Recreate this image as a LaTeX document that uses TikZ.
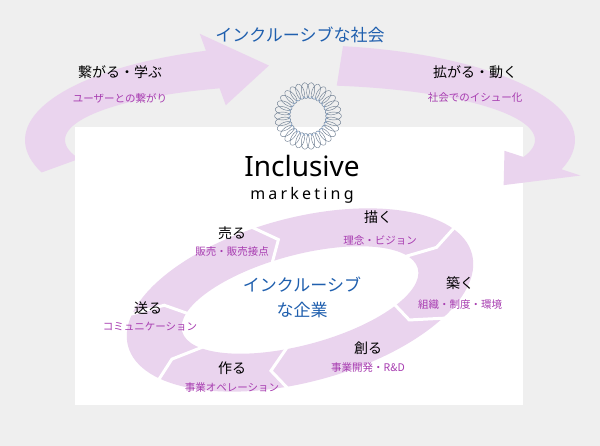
\documentclass[tikz,border=0pt]{standalone}
\usepackage{fontspec}
\setsansfont{Noto Sans}
\newfontfamily\jp{Noto Sans CJK JP}
\definecolor{bggray}{HTML}{EFEFEF}
\definecolor{ringpink}{HTML}{EAD4EE}
\definecolor{titleblue}{HTML}{1F5FAE}
\definecolor{submag}{HTML}{A73BB0}
\definecolor{logoline}{HTML}{6F7F92}
\tikzset{
  ring/.style={fill=ringpink},
  mainlbl/.style={font=\jp\fontsize{14}{16}\selectfont, text=black, inner sep=1pt},
  sublbl/.style={font=\jp\fontsize{10.5}{12}\selectfont, text=submag, inner sep=1pt},
  bluelbl/.style={font=\jp\fontsize{17}{20}\selectfont, text=titleblue, inner sep=1pt}
}
\begin{document}
\begin{tikzpicture}[x=1pt,y=1pt]
  \useasboundingbox (0,0) rectangle (600,446);
  \fill[bggray] (0,0) rectangle (600,446);

  % outer arrow, left side
  \fill[ring] plot[domain=200:110,samples=40] ({300+275*cos(\x)},{306+95*sin(\x)})
    -- ({300+293*cos(110)},{306+113*sin(110)})
    -- ({300+255*cos(97)},{306+75*sin(97)})
    -- ({300+217*cos(110)},{306+37*sin(110)})
    -- plot[domain=110:200,samples=40] ({300+235*cos(\x)},{306+55*sin(\x)}) -- cycle;

  % white panel
  \fill[white] (75,41) rectangle (523,319);

  % outer arrow, right side
  \fill[ring] plot[domain=81:-18,samples=40] ({300+275*cos(\x)},{306+95*sin(\x)})
    -- ({300+295*cos(-18)},{306+115*sin(-18)})
    -- ({300+255*cos(-37)},{306+75*sin(-37)})
    -- ({300+215*cos(-18)},{306+35*sin(-18)})
    -- plot[domain=-18:81,samples=40] ({300+235*cos(\x)},{306+55*sin(\x)}) -- cycle;

  % inner ring
  \begin{scope}[shift={(300,146)},rotate=15]
    \fill[ring,even odd rule] (0,0) ellipse (178 and 82) (0,0) ellipse (122 and 45);
    \foreach \t in {100,22,-40,-100,-150,160}
      \draw[white,line width=3pt,line join=miter]
        ({186*cos(\t)},{88*sin(\t)}) -- ({150*cos(\t-8)},{64*sin(\t-8)})
        -- ({115*cos(\t)},{39*sin(\t)});
  \end{scope}

  % logo
  \begin{scope}[shift={(308,330)},scale=0.88]
    \foreach \k in {0,12,...,348}
      \draw[logoline,line width=0.45pt,rotate=\k] (29,0) ellipse (9 and 4.5);
    \foreach \k in {0,12,...,348}
      \draw[titleblue!55,line width=0.4pt,rotate=\k] (20.5,0) arc (180:140:6);
  \end{scope}
  \node[font=\sffamily\fontsize{28}{30}\selectfont] (incl) at (302,280) {Inclusive};
  \node[font=\sffamily\fontsize{16}{18}\selectfont] (mkt) at (302,251)
    {\addfontfeature{LetterSpace=20}marketing};

  % texts
  \node[bluelbl] (title) at (300,411) {インクルーシブな社会};
  \node[mainlbl] (tsuna) at (120,374) {繋がる・学ぶ};
  \node[sublbl] (user) at (120,348) {ユーザーとの繋がり};
  \node[mainlbl] (hiro) at (475,374) {拡がる・動く};
  \node[sublbl] (issue) at (475,348) {社会でのイシュー化};

  \node[mainlbl] (uru) at (232,213) {売る};
  \node[sublbl] (hanbai) at (232,194) {販売・販売接点};
  \node[mainlbl] (egaku) at (378,229) {描く};
  \node[sublbl] (rinen) at (380,206) {理念・ビジョン};
  \node[mainlbl] (kizuku) at (460,163) {築く};
  \node[sublbl] (soshiki) at (460,141) {組織・制度・環境};
  \node[mainlbl] (okuru) at (148,138) {送る};
  \node[sublbl] (comm) at (150,119) {コミュニケーション};
  \node[mainlbl] (tsukuru) at (232,78) {作る};
  \node[sublbl] (jigyo) at (232,58) {事業オペレーション};
  \node[mainlbl] (tsukuru2) at (368,98) {創る};
  \node[sublbl] (kaihatsu) at (368,78) {事業開発・R\&D};

  \node[bluelbl] (ctr1) at (302,161) {インクルーシブ};
  \node[bluelbl] (ctr2) at (302,136) {な企業};
\end{tikzpicture}
\end{document}
